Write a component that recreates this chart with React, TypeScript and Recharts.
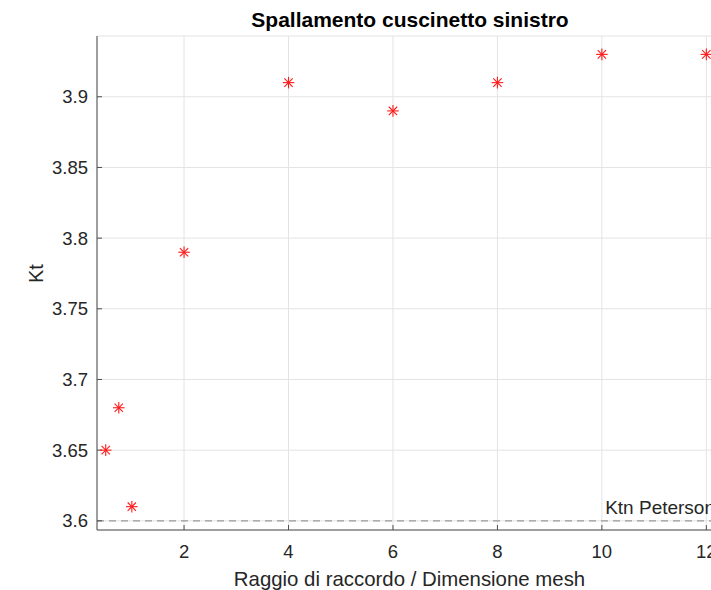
import React from "react";
import {
  ScatterChart,
  Scatter,
  XAxis,
  YAxis,
  CartesianGrid,
  ReferenceLine,
} from "recharts";

// rapporto raggio / mesh e Kt
const ratio = [0.5, 0.75, 1, 2, 4, 6, 8, 10, 12];
const kt = [3.65, 3.68, 3.61, 3.79, 3.91, 3.89, 3.91, 3.93, 3.93];
const xTicks = [2, 4, 6, 8, 10, 12];
const yTicks = [3.6, 3.65, 3.7, 3.75, 3.8, 3.85, 3.9];
const ktnPeterson = 3.6;

const data = ratio.map((r, i) => ({ x: r, y: kt[i] }));

const FONT = "Arial, 'Liberation Sans', Helvetica, sans-serif";
const AX = "#4d4d4d";

const Star = (props: any) => {
  const { cx, cy } = props;
  const r = 5.8;
  const d = r * 0.72;
  return (
    <g stroke="#ff1a1a" strokeWidth={1.1}>
      <line x1={cx - r} y1={cy} x2={cx + r} y2={cy} />
      <line x1={cx} y1={cy - r} x2={cx} y2={cy + r} />
      <line x1={cx - d} y1={cy - d} x2={cx + d} y2={cy + d} />
      <line x1={cx - d} y1={cy + d} x2={cx + d} y2={cy - d} />
    </g>
  );
};

const PetersonLabel = (props: any) => {
  const { viewBox } = props;
  return (
    <text
      x={viewBox.x + viewBox.width - 7}
      y={viewBox.y - 7}
      textAnchor="end"
      fontSize={19}
      fontFamily={FONT}
      fill="#262626"
    >
      Ktn Peterson
    </text>
  );
};

export default function App() {
  return (
    <div
      style={{
        position: "absolute",
        left: 0,
        top: 0,
        width: 711,
        height: 590,
        overflow: "hidden",
        background: "#fff",
      }}
    >
      <div
        style={{
          position: "absolute",
          left: 0,
          width: 820,
          top: 8,
          textAlign: "center",
          fontFamily: FONT,
          fontWeight: "bold",
          fontSize: 21,
          lineHeight: "24px",
          color: "#000",
        }}
      >
        Spallamento cuscinetto sinistro
      </div>
      <ScatterChart
        width={760}
        height={590}
        margin={{ top: 36, right: 38, left: 0, bottom: 0 }}
      >
        <CartesianGrid stroke="#e3e3e3" />
        <XAxis
          type="number"
          dataKey="x"
          domain={[0.333, 12.3]}
          ticks={xTicks}
          allowDataOverflow
          height={60}
          stroke={AX}
          tickSize={-5}
          tickMargin={20}
          tick={{ fontSize: 18.5, fontFamily: FONT, fill: "#262626" }}
          label={{
            value: "Raggio di raccordo / Dimensione mesh",
            position: "insideBottom",
            offset: 4,
            fontSize: 20.4,
            fontFamily: FONT,
            fill: "#262626",
          }}
        />
        <XAxis
          xAxisId="top"
          orientation="top"
          type="number"
          domain={[0.333, 12.3]}
          ticks={xTicks}
          allowDataOverflow
          height={0}
          stroke={AX}
          tickSize={-5}
          tick={false}
        />
        <YAxis
          type="number"
          dataKey="y"
          domain={[3.5935, 3.943]}
          ticks={yTicks}
          allowDataOverflow
          width={97}
          stroke={AX}
          tickSize={-5}
          tickMargin={14}
          tick={{ fontSize: 18.5, fontFamily: FONT, fill: "#262626" }}
          label={{
            value: "Kt",
            angle: -90,
            position: "insideLeft",
            offset: 36,
            fontSize: 20,
            fontFamily: FONT,
            fill: "#262626",
          }}
        />
        <ReferenceLine
          y={ktnPeterson}
          stroke="#999"
          strokeDasharray="7 5"
          strokeWidth={1.3}
          label={<PetersonLabel />}
        />
        <Scatter data={data} shape={<Star />} isAnimationActive={false} />
      </ScatterChart>
    </div>
  );
}
